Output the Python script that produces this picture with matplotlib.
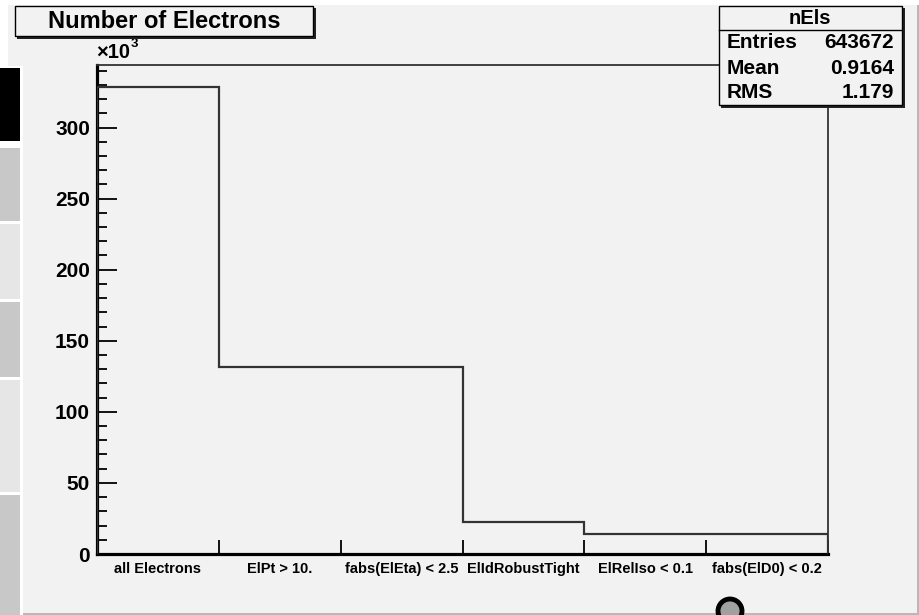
import numpy as np
import matplotlib
matplotlib.use("Agg")
import matplotlib.pyplot as plt
from matplotlib.patches import Rectangle, Circle
from matplotlib.transforms import IdentityTransform

categories = ["all Electrons", "ElPt > 10.", "fabs(ElEta) < 2.5", "ElIdRobustTight",
              "ElRelIso < 0.1", "fabs(ElD0) < 0.2"]
counts = [328800, 131700, 131700, 22500, 14100, 14100]
y_major = [0, 50000, 100000, 150000, 200000, 250000, 300000]
y_major_labels = ["0", "50", "100", "150", "200", "250", "300"]
title = "Number of Electrons"
stats_name = "nEls"
stats_rows = [("Entries", "643672"), ("Mean", "0.9164"), ("RMS", "1.179")]

W, H = 919, 615
plt.rcParams['font.family'] = ['Liberation Sans', 'DejaVu Sans']
fig = plt.figure(figsize=(W / 100, H / 100), dpi=100)
fig.patch.set_facecolor("white")
T = IdentityTransform()


def rect(x0, y0, x1, y1, **kw):
    # pixel coords with top-left origin
    r = Rectangle((x0, H - y1), x1 - x0, y1 - y0, transform=T, **kw)
    fig.add_artist(r)
    return r


def text(x, y, s, **kw):
    fig.text(x / W, 1 - y / H, s, **kw)


CANVAS = "#f2f2f2"
# canvas background
rect(8, 5, 917, 66, facecolor=CANVAS, edgecolor="none", zorder=0)
rect(23, 65, 917, 613, facecolor=CANVAS, edgecolor="none", zorder=0)
rect(23, 613, 919, 615, facecolor="#b8b8b8", edgecolor="none", zorder=0)
rect(917, 5, 919, 615, facecolor="#b8b8b8", edgecolor="none", zorder=0)
# left side panel blocks
rect(0, 68, 20, 141, facecolor="black", edgecolor="none", zorder=0)
rect(0, 148, 20, 221, facecolor="#c8c8c8", edgecolor="none", zorder=0)
rect(0, 224, 20, 299, facecolor="#e6e6e6", edgecolor="none", zorder=0)
rect(0, 302, 20, 377, facecolor="#c8c8c8", edgecolor="none", zorder=0)
rect(0, 380, 20, 492, facecolor="#e6e6e6", edgecolor="none", zorder=0)
rect(0, 495, 20, 615, facecolor="#c8c8c8", edgecolor="none", zorder=0)

# axes
ax = fig.add_axes([97 / W, 1 - 554 / H, (828 - 97) / W, (554 - 65) / H])
ax.set_facecolor("none")
edges = np.arange(len(categories) + 1)
ax.stairs(counts, edges, color="#333333", linewidth=1.6, zorder=3)
ax.set_xlim(0, len(categories))
ax.set_ylim(0, 344000)

for s in ["left", "bottom"]:
    ax.spines[s].set_linewidth(2.3)
    ax.spines[s].set_color("black")
for s in ["top", "right"]:
    ax.spines[s].set_linewidth(1.3)
    ax.spines[s].set_color("#333333")

ax.set_yticks(y_major)
ax.set_yticklabels(y_major_labels)
ax.set_yticks(np.arange(0, 344000, 10000), minor=True)
ax.tick_params(axis="y", which="major", direction="in", length=14.5, width=1.3,
               labelsize=15, pad=5, right=False)
ax.tick_params(axis="y", which="minor", direction="in", length=7.2, width=1.3, right=False)
for lab in ax.get_yticklabels():
    lab.set_fontweight("bold")

ax.set_xticks(edges)
ax.set_xticklabels([])
ax.set_xticks(edges[:-1] + 0.5, minor=True)
ax.set_xticklabels(categories, minor=True)
ax.tick_params(axis="x", which="major", direction="in", length=10, width=1.3, top=False)
ax.tick_params(axis="x", which="minor", length=0, labelsize=10.5, pad=6, top=False)
for lab in ax.get_xticklabels(minor=True):
    lab.set_fontweight("bold")

# x10^3
text(96, 58, "\u00d710", fontsize=14.5, fontweight="bold", ha="left", va="baseline")
text(131, 47, "3", fontsize=9.5, fontweight="bold", ha="left", va="baseline")

# title box
rect(17, 8, 316, 39, facecolor="#222222", edgecolor="none", zorder=5)
rect(15, 6, 313, 36, facecolor=CANVAS, edgecolor="black", linewidth=1.0, zorder=6)
text(164, 22, title, fontsize=17, fontweight="bold", ha="center", va="center", zorder=7)

# stats box
rect(721, 8, 905, 108, facecolor="#222222", edgecolor="none", zorder=5)
rect(719, 6, 902, 105, facecolor=CANVAS, edgecolor="black", linewidth=1.0, zorder=6)
fig.add_artist(plt.Line2D([719, 902], [H - 30, H - 30], transform=T, color="black",
                          linewidth=1.0, zorder=7))
text(810, 18, stats_name, fontsize=14.5, fontweight="bold", ha="center", va="center", zorder=7)
for i, (k, v) in enumerate(stats_rows):
    yy = 43 + i * 25
    text(727, yy, k, fontsize=15, fontweight="bold", ha="left", va="center", zorder=7)
    text(894, yy, v, fontsize=15, fontweight="bold", ha="right", va="center", zorder=7)

# cursor marker
fig.add_artist(Circle((730, H - 611), 12, transform=T, facecolor="#a0a0a0",
                      edgecolor="black", linewidth=3.5, zorder=8))

fig.savefig("out.png", dpi=100)
